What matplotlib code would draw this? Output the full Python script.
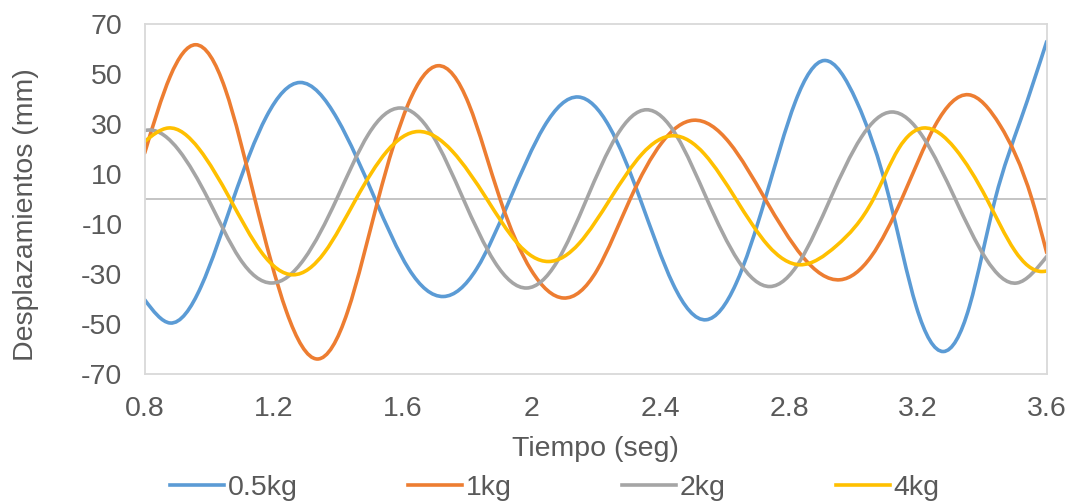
import numpy as np
import matplotlib
matplotlib.use("Agg")
import matplotlib.pyplot as plt
from matplotlib.path import Path
from matplotlib.patches import PathPatch
from matplotlib.lines import Line2D

plt.rcParams["font.family"] = ["Liberation Sans", "DejaVu Sans"]
plt.rcParams["axes.unicode_minus"] = False

# peaks, zero crossings and half-way points of each record (seg, mm)
t_05 = [0.80, 0.879, 0.975, 1.075, 1.178, 1.282, 1.398, 1.515, 1.62, 1.727, 1.83, 1.934,
        2.04, 2.146, 2.242, 2.338, 2.44, 2.543, 2.635, 2.726, 2.82, 2.91, 3.01, 3.112,
        3.195, 3.279, 3.36, 3.44, 3.52, 3.60]
y_05 = [-40.3, -49.6, -35, 0, 33, 46.6, 32, 0, -28, -39, -28, 0,
        29, 40.8, 29, 0, -34, -48.3, -34, 0, 39, 55.4, 39, 0,
        -43, -61, -43, 0, 32, 63]

t_1 = [0.80, 0.879, 0.958, 1.05, 1.142, 1.24, 1.336, 1.43, 1.525, 1.618, 1.71, 1.806,
       1.903, 2.0, 2.1, 2.204, 2.307, 2.405, 2.503, 2.615, 2.726, 2.842, 2.959, 3.055,
       3.15, 3.254, 3.357, 3.455, 3.554, 3.60]
y_1 = [18.4, 49, 61.7, 44, 0, -45, -64, -45, 0, 38, 53.3, 38,
       0, -28.5, -39.6, -28.5, 0, 22.5, 31.5, 22.5, 0, -23, -32.3, -23,
       0, 29.5, 41.7, 29.5, 0, -21.5]

t_2 = [0.80, 0.815, 0.906, 0.997, 1.095, 1.194, 1.295, 1.396, 1.495, 1.593, 1.691, 1.789,
       1.887, 1.986, 2.079, 2.172, 2.265, 2.358, 2.451, 2.545, 2.643, 2.741, 2.834, 2.928,
       3.024, 3.119, 3.217, 3.316, 3.411, 3.507, 3.60]
y_2 = [27.4, 27.6, 19.5, 0, -23.8, -33.6, -24, 0, 26, 36.4, 26, 0,
       -25.3, -35.6, -25.3, 0, 25.3, 35.7, 25.3, 0, -24.8, -35, -24.8, 0,
       24.6, 34.8, 24.6, 0, -23.8, -33.6, -23]

t_4 = [0.80, 0.873, 0.969, 1.065, 1.163, 1.261, 1.358, 1.456, 1.552, 1.649, 1.755, 1.862,
       1.957, 2.053, 2.149, 2.245, 2.343, 2.441, 2.538, 2.635, 2.735, 2.834, 2.948, 3.062,
       3.14, 3.217, 3.316, 3.414, 3.50, 3.585, 3.60]
y_4 = [23, 28.4, 20, 0, -21.4, -30.3, -21.4, 0, 19.1, 27, 19.1, 0,
       -17.7, -25, -17.7, 0, 17.9, 25.3, 17.9, 0, -18.6, -26.3, -18.6, 0,
       20.1, 28.4, 20.1, 0, -20.5, -29, -28.8]

labels = ["0.5kg", "1kg", "2kg", "4kg"]
colors = ["#5B9BD5", "#ED7D31", "#A5A5A5", "#FFC000"]
x_ticks = [0.8, 1.2, 1.6, 2.0, 2.4, 2.8, 3.2, 3.6]
x_tick_labels = ["0.8", "1.2", "1.6", "2", "2.4", "2.8", "3.2", "3.6"]
y_ticks = [-70, -50, -30, -10, 10, 30, 50, 70]

text_color = "#595959"
fs = 20.5


def smooth_path(x, y):
    # natural cubic spline through the points, drawn as bezier segments
    x = np.asarray(x, float)
    y = np.asarray(y, float)
    n = len(x)
    h = np.diff(x)
    A = np.zeros((n, n))
    b = np.zeros(n)
    A[0, 0] = A[-1, -1] = 1
    for i in range(1, n - 1):
        A[i, i - 1] = h[i - 1]
        A[i, i] = 2 * (h[i - 1] + h[i])
        A[i, i + 1] = h[i]
        b[i] = 6 * ((y[i + 1] - y[i]) / h[i] - (y[i] - y[i - 1]) / h[i - 1])
    M = np.linalg.solve(A, b)
    d = np.empty(n)
    d[:-1] = np.diff(y) / h - h * (2 * M[:-1] + M[1:]) / 6
    d[-1] = (y[-1] - y[-2]) / h[-1] + h[-1] * (M[-2] + 2 * M[-1]) / 6

    verts = [(x[0], y[0])]
    codes = [Path.MOVETO]
    for i in range(n - 1):
        verts += [(x[i] + h[i] / 3, y[i] + d[i] * h[i] / 3),
                  (x[i + 1] - h[i] / 3, y[i + 1] - d[i + 1] * h[i] / 3),
                  (x[i + 1], y[i + 1])]
        codes += [Path.CURVE4] * 3
    return Path(verts, codes)


fig = plt.figure(figsize=(10.75, 5.04), dpi=100)
ax = fig.add_axes([0.1346, 0.2579, 0.8391, 0.6945])

ax.axhline(0, color="#BFBFBF", lw=1.3, zorder=1)

series = [(t_05, y_05), (t_1, y_1), (t_2, y_2), (t_4, y_4)]
for (t, y), c in zip(series, colors):
    ax.add_patch(PathPatch(smooth_path(t, y), fill=False, edgecolor=c, lw=2.6,
                           capstyle="round", joinstyle="round", zorder=2))

ax.set_xlim(0.8, 3.6)
ax.set_ylim(-70, 70)
ax.set_xticks(x_ticks)
ax.set_xticklabels(x_tick_labels)
ax.set_yticks(y_ticks)
ax.tick_params(length=0, labelsize=fs, labelcolor=text_color)
ax.tick_params(axis="x", pad=16)
ax.tick_params(axis="y", pad=16)
for s in ax.spines.values():
    s.set_color("#D9D9D9")
    s.set_linewidth(1.3)

ax.set_xlabel("Tiempo (seg)", fontsize=fs, color=text_color, labelpad=10)
ax.set_ylabel("Desplazamientos (mm)", fontsize=fs, color=text_color)
ax.yaxis.set_label_coords(-0.117, 0.454)

# one legend entry per slot along the bottom
legend_x = [170, 408, 622, 836]
for lab, c, x0 in zip(labels, colors, legend_x):
    fig.legend([Line2D([], [], color=c, lw=2.6)], [lab], loc="center left",
               bbox_to_anchor=(x0 / 1075, 0.0317), frameon=False, fontsize=fs,
               labelcolor=text_color, borderpad=0, borderaxespad=0,
               handlelength=1.9, handletextpad=0.12)

fig.savefig("out.png", dpi=100)
